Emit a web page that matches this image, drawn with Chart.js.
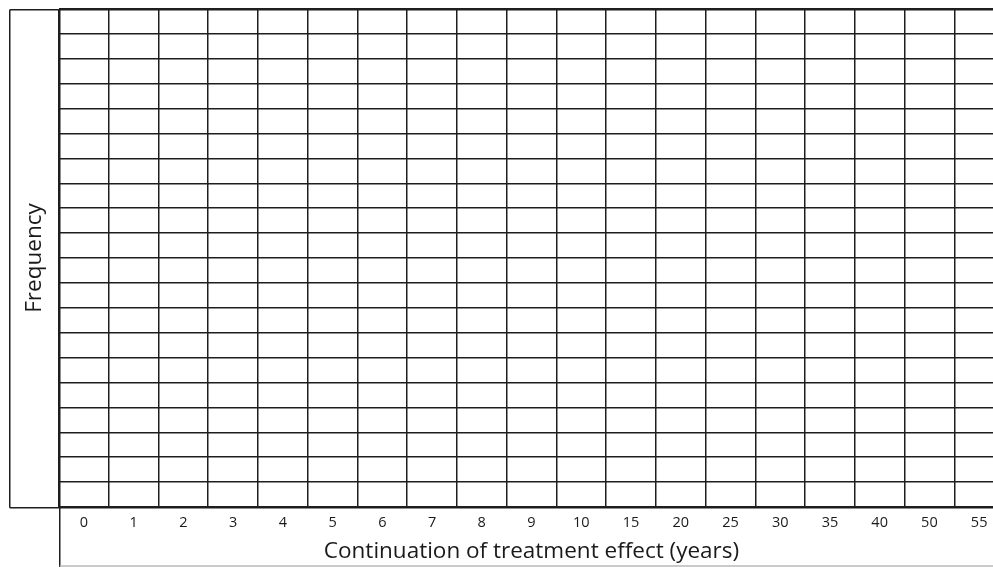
<!DOCTYPE html>
<html>
<head>
<meta charset="utf-8">
<script src="https://cdn.jsdelivr.net/npm/chart.js@4.4.1/dist/chart.umd.min.js"></script>
<style>
html, body { margin: 0; padding: 0; overflow: hidden; background: #fff; }
#wrap { width: 1004px; height: 567px; position: relative; }
</style>
</head>
<body>
<div id="wrap"><canvas id="c"></canvas></div>
<script>
// Categories (years of continued treatment effect)
const categories = ['0','1','2','3','4','5','6','7','8','9','10','15','20','25','30','35','40','50','55'];
// Frequencies: the reference is a blank template, no bars drawn
const frequencies = [0,0,0,0,0,0,0,0,0,0,0,0,0,0,0,0,0,0,0];
// Frequency axis range (20 grid rows)
const freqMin = 0;
const freqMax = 20;
const freqStep = 1;

const lineColor = '#1e1e1e';
const fontFamily = "'Open Sans', 'Noto Sans', sans-serif";

const framePlugin = {
  id: 'frame',
  afterDraw(chart) {
    const ctx = chart.ctx;
    const ca = chart.chartArea;
    const xs = chart.scales.x;
    const ys = chart.scales.y;
    ctx.save();
    ctx.strokeStyle = lineColor;
    ctx.lineWidth = 1.5;
    const L = Math.round(ys.left) + 0.75;
    const T = Math.round(ca.top) + 0.75;
    const B = Math.round(ca.bottom) + 0.75;
    const CL = Math.round(ca.left) + 0.75;
    ctx.beginPath();
    ctx.moveTo(L, T); ctx.lineTo(L, B);
    ctx.moveTo(L, T); ctx.lineTo(ca.right, T);
    ctx.moveTo(L, B); ctx.lineTo(ca.right, B);
    ctx.moveTo(CL, T); ctx.lineTo(CL, xs.bottom);
    ctx.stroke();
    ctx.strokeStyle = '#b8b8b8';
    ctx.beginPath();
    ctx.moveTo(CL, xs.bottom - 1); ctx.lineTo(ca.right, xs.bottom - 1);
    ctx.stroke();
    ctx.restore();
  }
};

new Chart(document.getElementById('c'), {
  type: 'bar',
  data: {
    labels: categories,
    datasets: [{
      label: 'Frequency',
      data: frequencies,
      backgroundColor: '#4472c4',
      borderWidth: 0
    }]
  },
  options: {
    responsive: true,
    maintainAspectRatio: false,
    animation: false,
    layout: { padding: { left: 9, top: 9, right: 0, bottom: 0 } },
    plugins: {
      legend: { display: false },
      tooltip: { enabled: false }
    },
    scales: {
      x: {
        type: 'category',
        offset: true,
        grid: {
          offset: true,
          color: lineColor,
          lineWidth: 1.5,
          drawTicks: false
        },
        border: { display: false },
        ticks: {
          color: '#1a1a1a',
          font: { family: fontFamily, size: 14.5 },
          padding: 7,
          maxRotation: 0,
          autoSkip: false
        },
        title: {
          display: true,
          text: 'Continuation of treatment effect (years)',
          color: '#1a1a1a',
          font: { family: fontFamily, size: 22.5 },
          padding: { top: 0, bottom: 2 }
        },
        afterFit(scale) { scale.height = 60; }
      },
      y: {
        min: freqMin,
        max: freqMax,
        ticks: { stepSize: freqStep, display: false },
        grid: {
          color: lineColor,
          lineWidth: 1.5,
          drawTicks: false
        },
        border: { display: false },
        title: {
          display: true,
          text: 'Frequency',
          color: '#1a1a1a',
          font: { family: fontFamily, size: 22.5 },
          padding: { top: 12.5, bottom: 0 }
        },
        afterFit(scale) { scale.width = 50; }
      }
    }
  },
  plugins: [framePlugin]
});
</script>
</body>
</html>
